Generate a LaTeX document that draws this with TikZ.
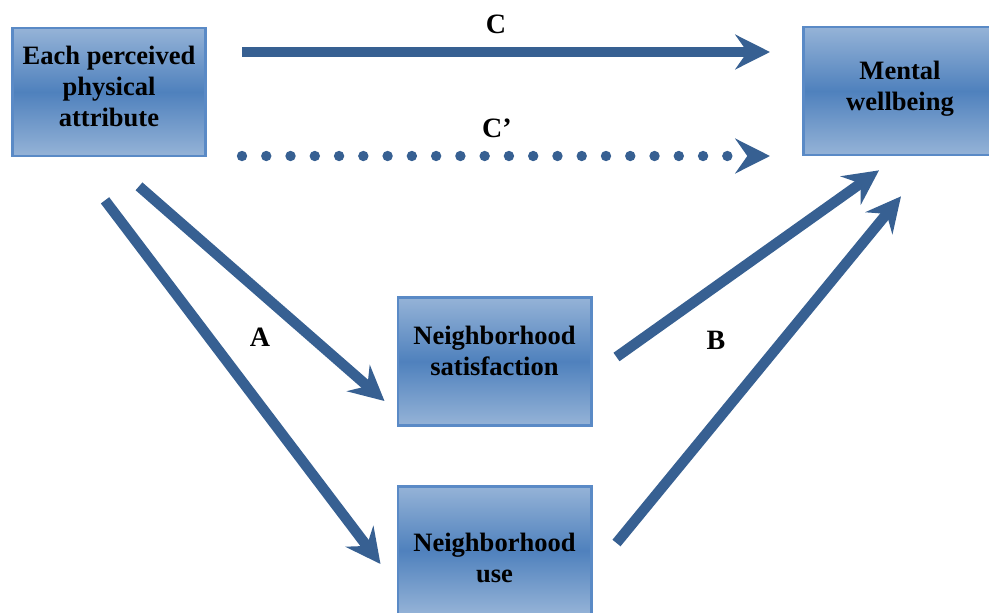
\documentclass[tikz,border=0pt]{standalone}
\usepackage{fontspec}
\setmainfont{Liberation Serif}
\usetikzlibrary{arrows.meta,calc}

\definecolor{boxlight}{HTML}{95B3D7}
\definecolor{boxdark}{HTML}{4F81BD}
\definecolor{boxline}{HTML}{5A8AC6}
\definecolor{arrowblue}{HTML}{376092}

\tikzset{
  varbox/.style={draw=boxline, line width=2pt, top color=boxlight,
    bottom color=boxlight, middle color=boxdark, minimum width=145pt,
    minimum height=96pt},
  vartext/.style={align=center, font=\fontsize{19.9}{23.2}\selectfont\bfseries},
  flow/.style={arrowblue, line width=7.8pt,
    -{Stealth[length=26pt,width=26pt,inset=9pt]}},
  pathlab/.style={font=\fontsize{21}{24}\selectfont\bfseries},
}

\begin{document}
\begin{tikzpicture}[x=0.75pt,y=-0.75pt]
  \useasboundingbox (0,0) rectangle (989,612);
  \clip (0,0) rectangle (989,612);

  % variables
  \node[varbox] (attr) at (109,92) {};
  \node[varbox] (well) at (900,91) {};
  \node[varbox] (sat) at (494.5,361.5) {};
  \node[varbox] (use) at (494.5,550.5) {};
  \node[vartext] (attrtxt) at ($(attr)+(0,-5.5)$) {Each perceived\\physical\\attribute};
  \node[vartext] (welltxt) at ($(well)+(0,-2)$) {Mental\\wellbeing};
  \node[vartext] (sattxt) at ($(sat)+(0,-10.5)$) {Neighborhood\\satisfaction};
  \node[vartext] (usetxt) at ($(use)+(0,7.5)$) {Neighborhood\\use};

  % direct paths
  \draw[flow] ($(attr.east)+(35,-40)$) -- ($(well.west)+(-32,-39)$);
  \draw[flow, line cap=round, dash pattern=on 0pt off 18.2pt]
    ($(attr.east)+(35,64)$) -- ($(well.west)+(-32,65)$);

  % a paths
  \draw[flow] ($(attr.south)+(30,29)$) -- ($(sat.west)+(-12,39.5)$);
  \draw[flow] ($(attr.south)+(-4,43)$) -- ($(use.west)+(-16,13.5)$);

  % b paths
  \draw[flow] ($(sat.east)+(24,-4.5)$) -- ($(well.south)+(-21,14)$);
  \draw[flow] ($(use.east)+(24,-7.5)$) -- ($(well.south)+(1,40)$);

  % path labels
  \node[pathlab] (labC) at (496,24) {C};
  \node[pathlab] (labCp) at (497,128) {C’};
  \node[pathlab] (labA) at (260,337) {A};
  \node[pathlab] (labB) at (716,340) {B};
\end{tikzpicture}
\end{document}
